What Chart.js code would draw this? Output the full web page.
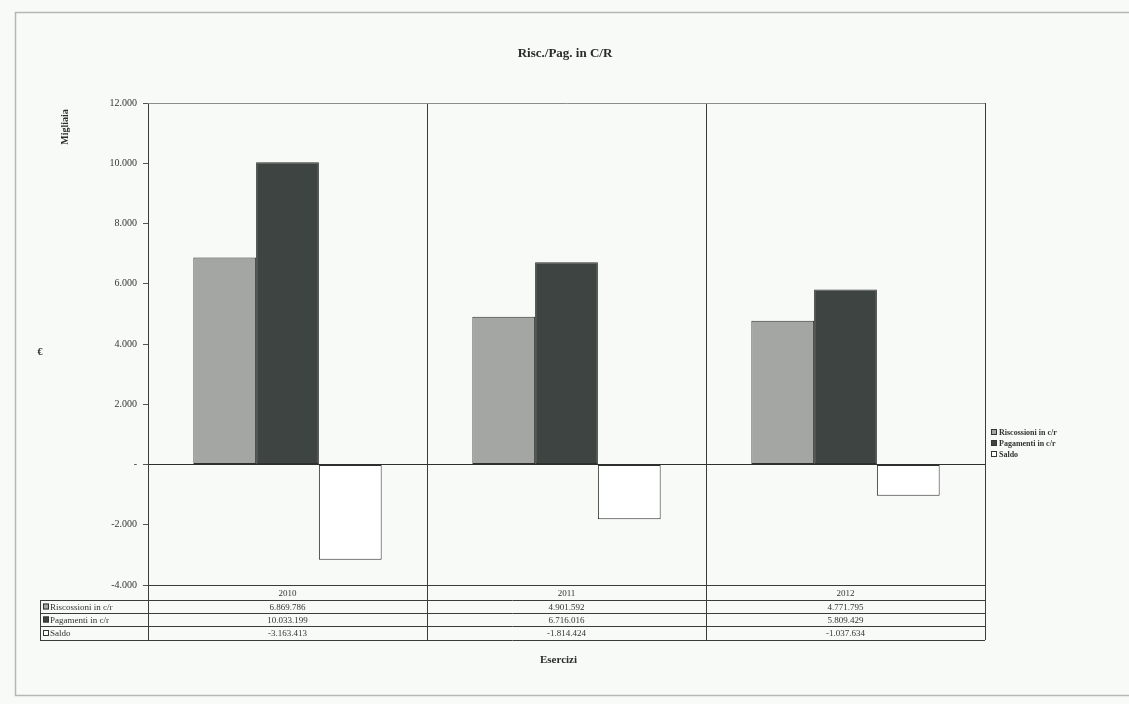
<!DOCTYPE html>
<html>
<head>
<meta charset="utf-8">
<script src="https://cdn.jsdelivr.net/npm/chart.js@4/dist/chart.umd.min.js"></script>
<style>
  html, body { margin: 0; padding: 0; background: #f8faf7; }
  #wrap { width: 1129px; height: 704px; }
</style>
</head>
<body>
<div id="wrap"><canvas id="grafico"></canvas></div>
<script>
// dati in migliaia di euro
const esercizi = ["2010", "2011", "2012"];
const riscossioni = [6869.786, 4901.592, 4771.795];
const pagamenti = [10033.199, 6716.016, 5809.429];
const saldo = [-3163.413, -1814.424, -1037.634];
const nomiSerie = ["Riscossioni in c/r", "Pagamenti in c/r", "Saldo"];
const coloriSerie = ["#a4a6a4", "#3e4442", "#ffffff"];
const titolo = "Risc./Pag. in C/R";
const yMin = -4000, yMax = 12000, yPasso = 2000;

const SERIF = "'Liberation Serif', 'Times New Roman', serif";

function puntini(n) {
  //formato italiano con il punto per le migliaia
  const s = String(Math.abs(Math.round(n))).replace(/\B(?=(\d{3})+(?!\d))/g, ".");
  return (n < 0 ? "-" : "") + s;
}

const extras = {
  id: "extras",
  beforeDraw(chart) {
    const ctx = chart.ctx;
    ctx.save();
    ctx.fillStyle = "#f8faf7";
    ctx.fillRect(0, 0, chart.width, chart.height);
    ctx.strokeStyle = "#b4b8b4";
    ctx.lineWidth = 1.5;
    ctx.strokeRect(15.5, 12.5, chart.width + 10, 683);
    ctx.restore();
  },
  afterDraw(chart) {
    const ctx = chart.ctx;
    const a = chart.chartArea;
    const x = chart.scales.x;
    ctx.save();

    // titolo
    ctx.fillStyle = "#2a2c2a";
    ctx.font = "bold 13px " + SERIF;
    ctx.textAlign = "center";
    ctx.textBaseline = "middle";
    ctx.fillText(titolo, 565, 54);

    // bordo superiore dell'area del grafico
    ctx.strokeStyle = "#8a8e8a";
    ctx.lineWidth = 1;
    ctx.beginPath();
    ctx.moveTo(a.left, a.top + 0.5);
    ctx.lineTo(a.right, a.top + 0.5);
    ctx.stroke();

    // tabella dati
    const righe = [riscossioni, pagamenti, saldo];
    const hRiga = [15, 13, 13, 14];
    const sinistra = 40;
    let ys = [a.bottom];
    hRiga.forEach(h => ys.push(ys[ys.length - 1] + h));
    const passo = (x.getPixelForValue(1) - x.getPixelForValue(0));
    const bordi = [a.left];
    esercizi.forEach((e, i) => bordi.push(x.getPixelForValue(i) + passo / 2));

    ctx.strokeStyle = "#3a3c3a";
    ctx.lineWidth = 1;
    ctx.beginPath();
    for (let r = 1; r < ys.length; r++) {
      ctx.moveTo(sinistra, Math.round(ys[r]) + 0.5);
      ctx.lineTo(a.right, Math.round(ys[r]) + 0.5);
    }
    ctx.moveTo(sinistra + 0.5, ys[1]);
    ctx.lineTo(sinistra + 0.5, ys[4]);
    bordi.forEach(b => {
      ctx.moveTo(Math.round(b) + 0.5, ys[0]);
      ctx.lineTo(Math.round(b) + 0.5, ys[4]);
    });
    ctx.stroke();

    ctx.fillStyle = "#333";
    ctx.font = "9px " + SERIF;
    esercizi.forEach((e, i) => {
      const cx = x.getPixelForValue(i);
      ctx.fillText(e, cx, (ys[0] + ys[1]) / 2 + 1);
      righe.forEach((serie, r) => {
        ctx.fillText(puntini(serie[i] * 1000), cx, (ys[r + 1] + ys[r + 2]) / 2 + 1);
      });
    });
    ctx.textAlign = "left";
    nomiSerie.forEach((nome, r) => {
      const cy = (ys[r + 1] + ys[r + 2]) / 2;
      ctx.fillStyle = coloriSerie[r];
      ctx.fillRect(sinistra + 3, cy - 3, 6, 6);
      ctx.strokeStyle = "#333";
      ctx.strokeRect(sinistra + 3.5, cy - 2.5, 5, 5);
      ctx.fillStyle = "#333";
      ctx.fillText(nome, sinistra + 10, cy + 1);
    });

    // legenda
    ctx.font = "bold 8px " + SERIF;
    nomiSerie.forEach((nome, r) => {
      const cy = 432 + r * 11;
      ctx.fillStyle = coloriSerie[r];
      ctx.fillRect(991, cy - 3, 6, 6);
      ctx.strokeStyle = "#333";
      ctx.strokeRect(991.5, cy - 2.5, 5, 5);
      ctx.fillStyle = "#333";
      ctx.fillText(nome, 999, cy + 1);
    });

    // titoli degli assi
    ctx.fillStyle = "#2a2c2a";
    ctx.font = "bold 11px " + SERIF;
    ctx.textAlign = "center";
    ctx.fillText("Esercizi", (a.left + a.right) / 2 - 8, 660);
    ctx.font = "bold 10px " + SERIF;
    ctx.fillText("€", 40, 352);
    ctx.translate(65, 127);
    ctx.rotate(-Math.PI / 2);
    ctx.fillText("Migliaia", 0, 0);
    ctx.restore();
  }
};

new Chart(document.getElementById("grafico"), {
  type: "bar",
  plugins: [extras],
  data: {
    labels: esercizi,
    datasets: [
      { label: nomiSerie[0], data: riscossioni, backgroundColor: coloriSerie[0] },
      { label: nomiSerie[1], data: pagamenti, backgroundColor: coloriSerie[1] },
      { label: nomiSerie[2], data: saldo, backgroundColor: coloriSerie[2] },
    ],
  },
  options: {
    responsive: true,
    maintainAspectRatio: false,
    animation: false,
    layout: { padding: { left: 0, right: 144, top: 103, bottom: 0 } },
    datasets: {
      bar: {
        categoryPercentage: 0.675,
        barPercentage: 1.0,
        borderColor: "#2e302e",
        borderWidth: 1,
        borderSkipped: false,
      },
    },
    plugins: {
      legend: { display: false },
      tooltip: { enabled: false },
      title: { display: false },
    },
    scales: {
      x: {
        offset: true,
        grid: { offset: true, color: "#3a3c3a", lineWidth: 1, drawTicks: false },
        border: { display: true, color: "#3a3c3a" },
        ticks: { display: false },
        afterFit(scale) { scale.height = 119; },
      },
      y: {
        min: yMin,
        max: yMax,
        grid: {
          color: ctx => (ctx.tick && ctx.tick.value === 0 ? "#2e302e" : "rgba(0,0,0,0)"),
          tickColor: "#555",
          tickLength: 5,
        },
        border: { display: true, color: "#3a3c3a" },
        ticks: {
          stepSize: yPasso,
          color: "#333",
          padding: 6,
          font: { family: SERIF, size: 10 },
          callback: v => (v === 0 ? "-" : puntini(v)),
        },
        afterFit(scale) { scale.width = 148; },
      },
    },
  },
});
</script>
</body>
</html>
